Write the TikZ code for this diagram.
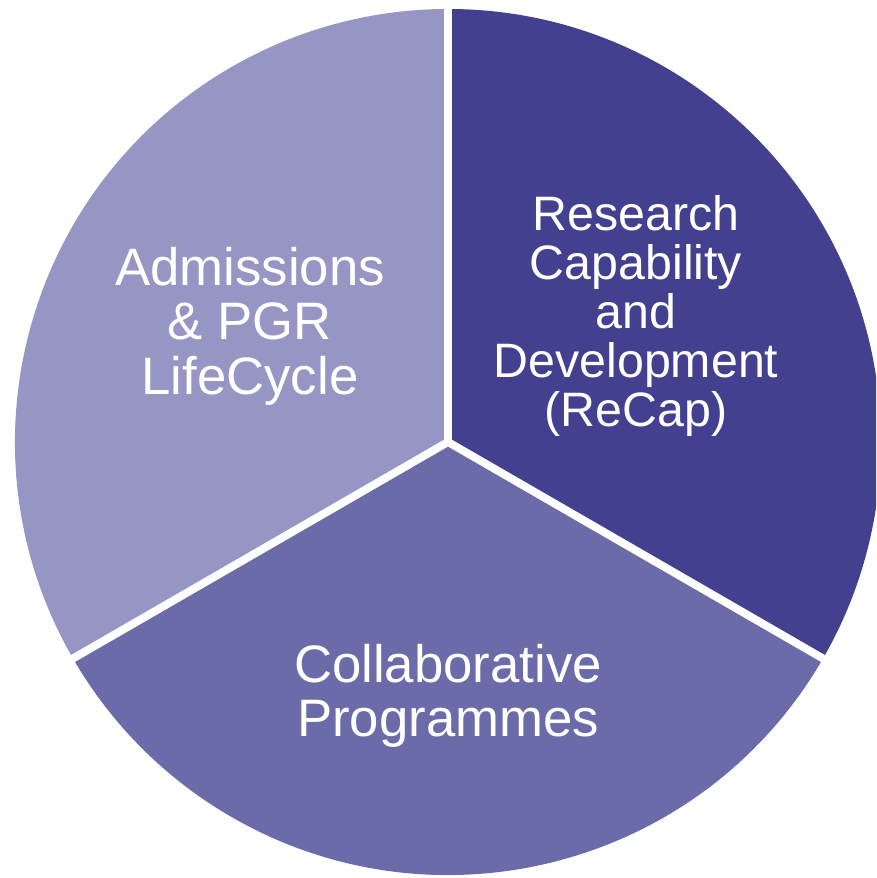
\documentclass[tikz,border=0pt]{standalone}
\usepackage{fontspec}
\setmainfont{Liberation Sans}
\usepackage{xcolor}
\usetikzlibrary{positioning, calc}
\definecolor{sliceL}{HTML}{9695C4}
\definecolor{sliceD}{HTML}{42408F}
\definecolor{sliceM}{HTML}{6C6BA9}
\tikzset{
  slice/.style  = {draw=none},
  divider/.style = {draw=white, line width=4.5pt},
  label/.style  = {text=white, align=center, inner sep=0pt,
                   font=\fontsize{30}{31}\selectfont},
  labelT/.style = {label, font=\fontsize{27.5}{28}\selectfont},
}

\begin{document}
\begin{tikzpicture}

    %% ===================== FRAME =====================
    \useasboundingbox (0,0) rectangle (17.52,17.56);
    \clip (0,0) rectangle (17.52,17.56);

    \coordinate (c) at (8.96,8.72);
    \def\rad{8.66}

    %% ===================== SLICES =====================
    \fill[slice, sliceD] (c) -- ++(90:\rad)  arc (90:-30:\rad)  -- cycle;
    \fill[slice, sliceM] (c) -- ++(-30:\rad) arc (-30:-150:\rad) -- cycle;
    \fill[slice, sliceL] (c) -- ++(210:\rad) arc (210:90:\rad)  -- cycle;

    %% ===================== DIVIDERS =====================
    \coordinate (rimT) at ($(c)+(90:\rad+0.2)$);
    \coordinate (rimR) at ($(c)+(-30:\rad+0.2)$);
    \coordinate (rimL) at ($(c)+(210:\rad+0.2)$);

    \draw[divider] (c) -- (rimT);
    \draw[divider] (c) -- (rimR);
    \draw[divider] (c) -- (rimL);

    %% ===================== LABELS =====================
    \node[label]  (adm)    at (5.00,11.04) {Admissions\\\& PGR\\LifeCycle};
    \node[labelT] (recap)  at (12.72,11.24) {Research\\Capability\\and\\Development\\(ReCap)};
    \node[label]  (collab) at (8.96,3.64)  {Collaborative\\Programmes};

\end{tikzpicture}
\end{document}
